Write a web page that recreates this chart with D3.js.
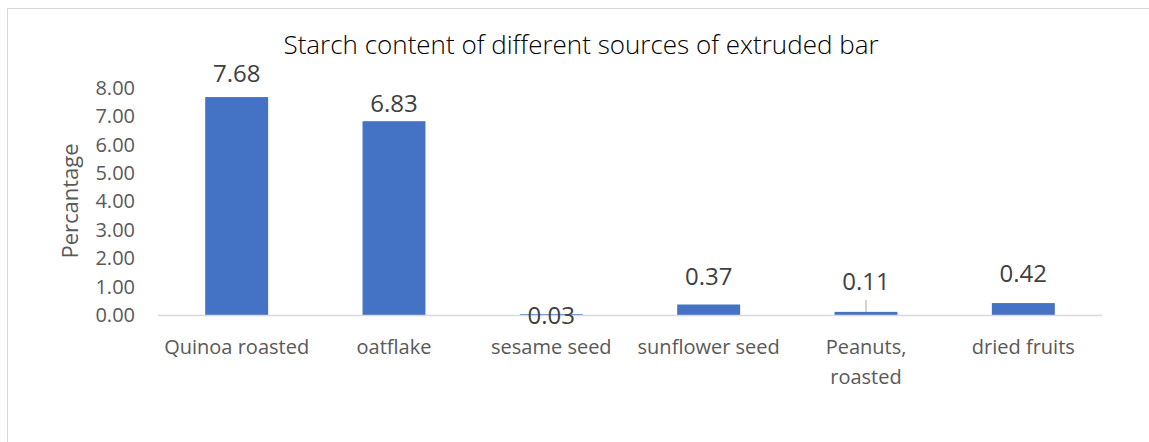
<!DOCTYPE html>
<html>
<head>
<meta charset="utf-8">
<script src="https://cdn.jsdelivr.net/npm/d3@7"></script>
<style>
  html, body { margin: 0; padding: 0; background: #fff; }
  svg { display: block; }
</style>
</head>
<body>
<svg id="chart" width="1149" height="442"></svg>
<script>
// Starch content per ingredient (percent)
const categories = ["Quinoa roasted", "oatflake", "sesame seed", "sunflower seed", "Peanuts, roasted", "dried fruits"];
const values = [7.68, 6.83, 0.03, 0.37, 0.11, 0.42];
const yTicks = [0, 1, 2, 3, 4, 5, 6, 7, 8];

const svg = d3.select("#chart");
const W = 1149, H = 442;
const font = "'Open Sans', 'Noto Sans', sans-serif";

// chart frame
svg.append("rect")
  .attr("x", 7.5).attr("y", 8.5)
  .attr("width", W + 10).attr("height", H + 10)
  .attr("fill", "#fff").attr("stroke", "#d9d9d9").attr("stroke-width", 1);

const plot = { left: 158, right: 1102, top: 88, bottom: 315 };

const x = d3.scaleBand().domain(categories)
  .range([plot.left, plot.right]).paddingInner(0.6).paddingOuter(0.3);
const y = d3.scaleLinear().domain([0, 8]).range([plot.bottom, plot.top]);

// title
svg.append("text")
  .attr("x", 581).attr("y", 54)
  .attr("text-anchor", "middle")
  .attr("font-family", font).attr("font-weight", 300)
  .attr("font-size", 26).attr("fill", "#000")
  .text("Starch content of different sources of extruded bar");

// y axis tick labels
const yAxis = d3.axisLeft(y).tickValues(yTicks).tickFormat(d3.format(".2f")).tickSize(0).tickPadding(0);
const gy = svg.append("g").attr("transform", "translate(135,0)").call(yAxis);
gy.select(".domain").remove();
gy.selectAll("text")
  .attr("font-family", font).attr("font-size", 20).attr("fill", "#595959");

// y axis title
svg.append("text")
  .attr("transform", `translate(78,201) rotate(-90)`)
  .attr("text-anchor", "middle")
  .attr("font-family", font).attr("font-size", 22).attr("fill", "#595959")
  .text("Percantage");

// bars
svg.append("g").selectAll("rect")
  .data(values)
  .join("rect")
  .attr("x", (d, i) => x(categories[i]))
  .attr("y", d => y(d))
  .attr("width", x.bandwidth())
  .attr("height", d => y(0) - y(d))
  .attr("fill", "#4472c4");

// x axis baseline
svg.append("line")
  .attr("x1", plot.left).attr("x2", plot.right)
  .attr("y1", plot.bottom + 0.5).attr("y2", plot.bottom + 0.5)
  .attr("stroke", "#d9d9d9").attr("stroke-width", 1.5);

// category labels (wrapped where they would overflow)
const wrapped = { "Peanuts, roasted": ["Peanuts,", "roasted"] };
const gx = svg.append("g");
categories.forEach(c => {
  const lines = wrapped[c] || [c];
  const cx = x(c) + x.bandwidth() / 2;
  const t = gx.append("text")
    .attr("x", cx)
    .attr("y", plot.bottom + 39)
    .attr("text-anchor", "middle")
    .attr("font-family", font).attr("font-size", 20).attr("fill", "#595959");
  lines.forEach((ln, k) => {
    t.append("tspan").attr("x", cx).attr("dy", k === 0 ? 0 : 30).text(ln);
  });
});

// data labels, placed relative to the top of each bar
const labelOffset = {
  "Quinoa roasted": -15, "oatflake": -9, "sesame seed": 10,
  "sunflower seed": -20, "Peanuts, roasted": -22, "dried fruits": -21
};
const lg = svg.append("g");
values.forEach((v, i) => {
  const c = categories[i];
  lg.append("text")
    .attr("x", x(c) + x.bandwidth() / 2)
    .attr("y", y(v) + labelOffset[c])
    .attr("text-anchor", "middle")
    .attr("font-family", font).attr("font-size", 24).attr("fill", "#404040")
    .text(v.toFixed(2));
});

// leader line for the displaced Peanuts label
const pc = x("Peanuts, roasted") + x.bandwidth() / 2;
svg.append("line")
  .attr("x1", pc).attr("x2", pc)
  .attr("y1", y(values[4]) - 12).attr("y2", y(values[4]))
  .attr("stroke", "#a6a6a6").attr("stroke-width", 1);
</script>
</body>
</html>
